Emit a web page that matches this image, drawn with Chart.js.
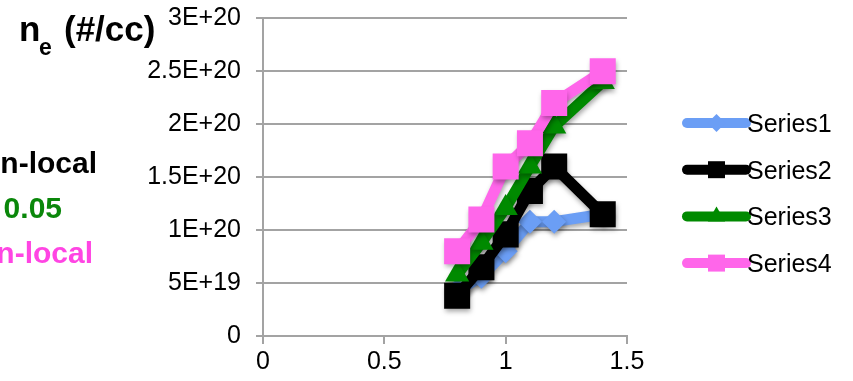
<!DOCTYPE html>
<html>
<head>
<meta charset="utf-8">
<script src="https://cdn.jsdelivr.net/npm/chart.js@4/dist/chart.umd.min.js"></script>
<style>
  html, body { margin: 0; padding: 0; background: #fff; }
  #wrap { position: relative; width: 853px; height: 381px; }
</style>
</head>
<body>
<div id="wrap"><canvas id="c" width="853" height="381"></canvas></div>
<script>
// Sample positions (x) shared by every series
const xValues = [0.8, 0.9, 1.0, 1.1, 1.2, 1.4];

// Electron density per series (#/cc)
const series1 = [4.3e19, 5.6e19, 8.0e19, 1.08e20, 1.08e20, 1.15e20];
const series2 = [3.8e19, 6.5e19, 9.6e19, 1.37e20, 1.6e20, 1.15e20];
const series3 = [5.8e19, 8.8e19, 1.21e20, 1.6e20, 1.98e20, 2.4e20];
const series4 = [8.0e19, 1.1e20, 1.6e20, 1.82e20, 2.2e20, 2.5e20];

const seriesNames = ['Series1', 'Series2', 'Series3', 'Series4'];

// Axis tick labels
const yTickValues = [0, 5e19, 1e20, 1.5e20, 2e20, 2.5e20, 3e20];
const yTickLabels = ['0', '5E+19', '1E+20', '1.5E+20', '2E+20', '2.5E+20', '3E+20'];
const xTickValues = [0, 0.5, 1, 1.5];
const xTickLabels = ['0', '0.5', '1', '1.5'];

const FONT = '"Liberation Sans", Arial, Helvetica, sans-serif';
const GRID = '#a3a3a3';

const styles = [
  { color: '#6b9ef5', shape: 'rectRot', r: 12, lr: 9 },
  { color: '#000000', shape: 'rect', r: 18.4, lr: 12 },
  { color: '#008a00', shape: 'triangle', r: 14, lr: 10 },
  { color: '#ff66ea', shape: 'rect', r: 18.4, lr: 12 }
];

function toPoints(ys) {
  return xValues.map((x, i) => ({ x: x, y: ys[i] }));
}

const allSeries = [series1, series2, series3, series4];
const datasets = allSeries.map((ys, i) => ({
  label: seriesNames[i],
  data: toPoints(ys),
  showLine: true,
  borderColor: styles[i].color,
  backgroundColor: styles[i].color,
  borderWidth: 11,
  borderJoinStyle: 'round',
  borderCapStyle: 'round',
  pointStyle: styles[i].shape,
  pointRadius: styles[i].r,
  pointHoverRadius: styles[i].r,
  pointBackgroundColor: styles[i].color,
  pointBorderColor: styles[i].color,
  pointBorderWidth: 0,
  order: 4 - i   // later series sit on top
}));

// Soft drop shadow under the plotted series
const shadowPlugin = {
  id: 'shadow',
  beforeDatasetsDraw(chart) {
    const ctx = chart.ctx;
    ctx.save();
    ctx.shadowColor = 'rgba(0,0,0,0.35)';
    ctx.shadowBlur = 5;
    ctx.shadowOffsetX = 1;
    ctx.shadowOffsetY = 3;
  },
  afterDatasetsDraw(chart) {
    chart.ctx.restore();
  }
};

// Legend on the right: thick line with the marker in the middle
const legendPlugin = {
  id: 'sideLegend',
  afterDraw(chart) {
    const ctx = chart.ctx;
    const x0 = 687, x1 = 746, top = 123, step = 46.7;
    ctx.save();
    seriesNames.forEach((name, i) => {
      const y = top + i * step;
      const s = styles[i];
      ctx.strokeStyle = s.color;
      ctx.lineWidth = 10;
      ctx.lineCap = 'round';
      ctx.beginPath();
      ctx.moveTo(x0, y);
      ctx.lineTo(x1, y);
      ctx.stroke();
      ctx.fillStyle = s.color;
      ctx.strokeStyle = s.color;
      Chart.helpers.drawPoint(ctx, { pointStyle: s.shape, radius: s.lr, rotation: 0, borderWidth: 0 }, (x0 + x1) / 2, y);
      ctx.fillStyle = '#000';
      ctx.font = '25px ' + FONT;
      ctx.textAlign = 'left';
      ctx.textBaseline = 'middle';
      ctx.fillText(name, 747, y + 2);
    });
    ctx.restore();
  }
};

// Axis caption and the annotation labels on the left
const notesPlugin = {
  id: 'notes',
  afterDraw(chart) {
    const ctx = chart.ctx;
    ctx.save();
    ctx.textBaseline = 'alphabetic';
    ctx.textAlign = 'left';
    ctx.fillStyle = '#000';
    ctx.font = 'bold 35px ' + FONT;
    ctx.fillText('n', 19, 41);
    ctx.font = 'bold 23px ' + FONT;
    ctx.fillText('e', 39, 55);
    ctx.font = 'bold 35px ' + FONT;
    ctx.fillText('(#/cc)', 64, 41);

    ctx.textAlign = 'right';
    ctx.font = 'bold 30px ' + FONT;
    ctx.fillStyle = '#000';
    ctx.fillText('n-local', 97, 173);
    ctx.fillStyle = '#0a870a';
    ctx.fillText('0.05', 62, 218);
    ctx.fillStyle = '#ff45e3';
    ctx.fillText('n-local', 93, 263);
    ctx.restore();
  }
};

new Chart(document.getElementById('c'), {
  type: 'scatter',
  data: { datasets: datasets },
  options: {
    responsive: false,
    animation: false,
    events: [],
    layout: { padding: { top: 17, right: 226, left: 0, bottom: 0 } },
    plugins: { legend: { display: false }, tooltip: { enabled: false } },
    scales: {
      x: {
        type: 'linear',
        min: 0, max: 1.5,
        afterBuildTicks(scale) { scale.ticks = xTickValues.map(v => ({ value: v })); },
        afterFit(scale) { scale.height = 45; },
        ticks: {
          color: '#000',
          font: { family: FONT, size: 25 },
          padding: 3,
          maxRotation: 0,
          callback(v) { const k = xTickValues.indexOf(v); return k >= 0 ? xTickLabels[k] : ''; }
        },
        grid: { drawOnChartArea: false, drawTicks: true, tickLength: 8, color: GRID, lineWidth: 2 },
        border: { color: GRID, width: 2 }
      },
      y: {
        type: 'linear',
        min: 0, max: 3e20,
        afterBuildTicks(scale) { scale.ticks = yTickValues.map(v => ({ value: v })); },
        afterFit(scale) { scale.width = 263; },
        ticks: {
          color: '#000',
          font: { family: FONT, size: 25, lineHeight: 0.1 },
          padding: 15,
          callback(v) { const k = yTickValues.indexOf(v); return k >= 0 ? yTickLabels[k] : ''; }
        },
        grid: { drawTicks: true, tickLength: 7, color: GRID, lineWidth: 2 },
        border: { color: GRID, width: 2 }
      }
    }
  },
  plugins: [shadowPlugin, legendPlugin, notesPlugin]
});
</script>
</body>
</html>
